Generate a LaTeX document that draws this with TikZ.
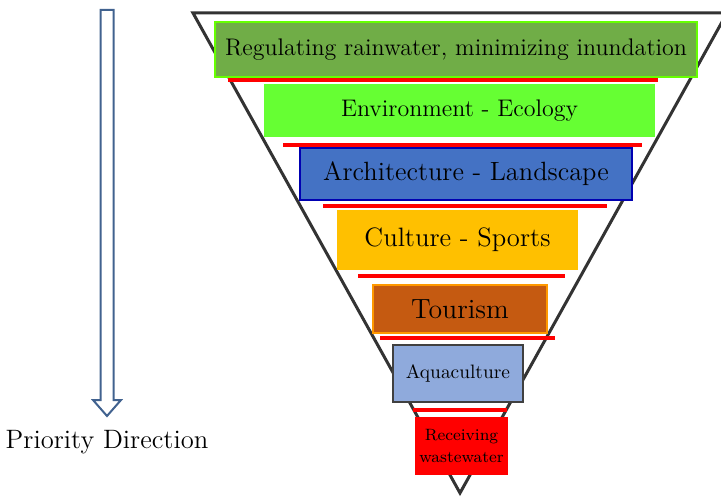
\documentclass[tikz,border=0pt]{standalone}
\usetikzlibrary{positioning}

\definecolor{verdeScuro}{HTML}{70AD47}
\definecolor{verdeChiaro}{HTML}{66FF33}
\definecolor{bluArch}{HTML}{4472C4}
\definecolor{gialloCult}{HTML}{FFC000}
\definecolor{marrone}{HTML}{C55A11}
\definecolor{azzurro}{HTML}{8FAADC}
\definecolor{frecciaBlu}{HTML}{41628F}

\tikzset{
  tier/.style={rectangle, inner sep=0pt, line width=0.8pt},
  shadowbar/.style={red, line width=2pt},
}

\begin{document}
\begin{tikzpicture}[x=0.5pt, y=-0.5pt]
	\useasboundingbox (0,0) rectangle (721,497);

	% Imbuto
	\coordinate (tl) at (193,13);
	\coordinate (tr) at (727,13);
	\coordinate (apex) at (460,493);
	\draw[black!80, line width=1.5pt, line join=miter] (tr) -- (tl) -- (apex) -- cycle;

	% Barre rosse
	\draw[shadowbar] (228,80) -- (658,80);
	\draw[shadowbar] (283,145) -- (642,145);
	\draw[shadowbar] (323,206) -- (607,206);
	\draw[shadowbar] (358,276) -- (565,276);
	\draw[shadowbar] (380,338) -- (555,338);
	\draw[shadowbar] (413,410) -- (507,410);

	% Livelli
	\node[tier, fill=verdeScuro, draw=green!60!yellow, minimum width=241pt, minimum height=27.5pt,
		font=\fontsize{12}{14}\selectfont] (rain) at (456,49.5) {Regulating rainwater, minimizing inundation};
	\node[tier, fill=verdeChiaro, minimum width=195.5pt, minimum height=26.5pt,
		font=\fontsize{12}{14}\selectfont] (eco) at (459.5,110.5) {Environment - Ecology};
	\node[tier, fill=bluArch, draw=blue!70!black, minimum width=166pt, minimum height=26pt,
		font=\fontsize{13.2}{16}\selectfont] (arch) at (466,174) {Architecture - Landscape};
	\node[tier, fill=gialloCult, minimum width=120.5pt, minimum height=30pt,
		font=\fontsize{13.3}{16}\selectfont] (sport) at (457.5,240) {Culture - Sports};
	\node[tier, fill=marrone, draw=orange!80!yellow, minimum width=87pt, minimum height=24pt,
		font=\fontsize{13.9}{16}\selectfont] (tour) at (460,309) {Tourism};
	\node[tier, fill=azzurro, draw=black!75, minimum width=65pt, minimum height=28.5pt,
		font=\fontsize{9.7}{12}\selectfont] (aqua) at (458,373.5) {Aquaculture};
	\node[tier, fill=red, minimum width=46.5pt, minimum height=29pt, align=center,
		font=\fontsize{8.2}{11}\selectfont] (waste) at (461.5,446) {Receiving\\wastewater};

	% Freccia di priorita'
	\coordinate (top) at (107,10);
	\coordinate (tip) at (107,416);
	\draw[frecciaBlu, line width=1pt, fill=white, line join=miter]
		(100.5,10) -- (113.5,10) -- (113.5,400) -- (121,400) -- (tip) -- (93,400) -- (100.5,400) -- cycle;
	\node[below=7pt of tip, font=\fontsize{13.3}{16}\selectfont, inner sep=0pt] (prio) {Priority Direction};
\end{tikzpicture}
\end{document}
